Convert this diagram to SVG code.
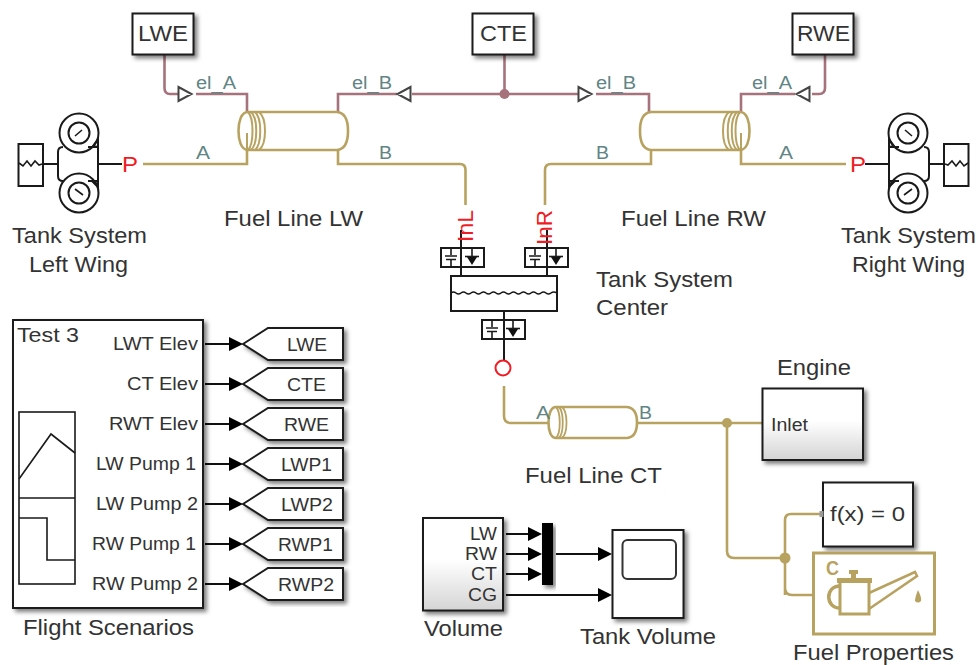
<svg xmlns="http://www.w3.org/2000/svg" xmlns:xlink="http://www.w3.org/1999/xlink" width="980" height="665" viewBox="0 0 980 665">
<style>
text{font-family:"Liberation Sans",Arial,sans-serif;fill:#333;font-size:22px}
.t18{font-size:18.500px}
.port{font-size:18px;fill:#5f8585}
.red{font-size:22px;fill:#f01c24}
.box{fill:#fff;stroke:#1a1a1a;stroke-width:2}
.grad{fill:url(#g);stroke:#1a1a1a;stroke-width:2}
.ln{fill:none;stroke:#1a1a1a;stroke-width:2}
.thin{fill:none;stroke:#1a1a1a;stroke-width:1.6}
.gold{fill:none;stroke:#b8a260;stroke-width:2.6}
.pink{fill:none;stroke:#a6727c;stroke-width:2.6}
.tri{fill:#fff;stroke:#444;stroke-width:2}
.sig{fill:none;stroke:#111;stroke-width:1.8}
</style>
<defs>
<linearGradient id="g" x1="0" y1="0" x2="0" y2="1"><stop offset="0.45" stop-color="#fff"/><stop offset="1" stop-color="#d4d4d4"/></linearGradient>
<filter id="s" x="-15%" y="-15%" width="135%" height="135%"><feDropShadow dx="3" dy="3" stdDeviation="2" flood-color="#000" flood-opacity="0.5"/></filter>
<path id="ah" d="M-14,-7 L0,0 L-14,7 Z" fill="#000"/>
<g id="tankicon">
<rect x="18.500" y="144" width="24.500" height="42" class="ln" fill="#fff"/>
<path d="M19,163 l4,3 l4,-5 l4,5 l4,-5 l4,4 l3,-1" class="thin"/>
<path d="M43,164 H58 M98,164 H122" class="ln"/>
<path d="M63,147 Q58,147 58,152 V176 Q58,181 63,181 M98,147 V181 M88,147 H97 M88,181 H97" class="ln"/>
<circle cx="79" cy="133" r="19.500" class="ln"/><circle cx="79" cy="133" r="10.500" class="ln"/>
<circle cx="79" cy="193" r="19.500" class="ln"/><circle cx="79" cy="193" r="10.500" class="ln"/>
<path d="M75,136 L82,130 M75,189 L83,195" class="thin"/>
<path d="M93,146 L98,139 V147 Z M93,182 L98,187 V181 Z" class="ln"/>
</g>
<g id="valve">
<rect x="0" y="0" width="43" height="19" class="ln" fill="#fff"/>
<path d="M10,0 V7 M4,8 H16 M5,11.500 H15 M10,11.500 V19 M31,0 V8" class="thin"/>
<path d="M24,8.500 H38" class="thin"/><path d="M26,9 H36 L31,17 Z" fill="#111"/>
</g>
<path id="goto" d="M0,0 L25,-16 H100 V16 H25 Z" fill="#fff" stroke="#1a1a1a" stroke-width="2" filter="url(#s)"/>
<g id="tube">
<path d="M248,112 H337 Q348,113 348,131 Q348,149 337,150 H248 C241,150 238.500,140 238.500,131 C238.500,122 241,112 248,112" class="gold"/>
<path d="M248,112 C254,118 254,144 248,150 M251,112 C258,118 258,144 251,150 M255,112 C262,118 262,144 255,150 M259,112 C267,118 267,144 259,150 M247,133 V150" fill="none" stroke="#b8a260" stroke-width="2"/>
</g>
</defs>

<g id="connectors">
<path d="M164.500,54 V88 Q164.500,94 170,94 H178 M196,94 H247 V112 M338,112 V94 H397 M412,94 H578 M596,94 H649 V112 M741,112 V94 H795 M812,94 H819 Q825,94 825,88 V54 M504.500,54 V94" class="pink"/>
<circle cx="504.500" cy="94" r="5" fill="#a6727c"/>
<path d="M143,164 H247 V150 M338,150 V164 H460 Q465.500,164 465.500,170 V205 M651,150 V164 H551 Q545,164 545,170 V205 M741,150 V164 H846 M504,386 V416 Q504,423 511,423 H548 M637,423 H766 M727,423 V551 Q727,558 734,558 H785 M785,595 V520 Q785,514 791,514 H821 M785,558 V588 Q785,595 792,595 H815" class="gold"/>
<circle cx="727" cy="423" r="5" fill="#b8a260"/><circle cx="785" cy="558" r="5.500" fill="#b8a260"/>
<path d="M461,230 V276 M547,230 V276 M504,311 V360" class="ln"/>
<path d="M205,344 H232 M205,384 H232 M205,424 H232 M205,464 H232 M205,504 H232 M205,544 H232 M205,584 H232 M506,534 H532 M506,554 H532 M506,574 H532 M556,554 H602 M506,595 H602" class="sig"/>
<use href="#ah" x="243" y="344"/><use href="#ah" x="243" y="384"/><use href="#ah" x="243" y="424"/><use href="#ah" x="243" y="464"/><use href="#ah" x="243" y="504"/><use href="#ah" x="243" y="544"/><use href="#ah" x="243" y="584"/>
<use href="#ah" x="542" y="534"/><use href="#ah" x="542" y="554"/><use href="#ah" x="542" y="574"/><use href="#ah" x="612" y="554"/><use href="#ah" x="612" y="595"/>
<path d="M178.500,87 L191.500,94 L178.500,101 Z M410.500,87 L397.500,94 L410.500,101 Z M578.500,87 L591.500,94 L578.500,101 Z M809.500,87 L796.500,94 L809.500,101 Z" class="tri"/>
</g>

<g id="lwe"><rect x="132.500" y="13.500" width="61" height="41" class="box" filter="url(#s)"/><text x="138" y="41" textLength="50" lengthAdjust="spacingAndGlyphs">LWE</text></g>
<g id="cte"><rect x="472.500" y="13.500" width="61" height="41" class="box" filter="url(#s)"/><text x="480" y="41" textLength="47" lengthAdjust="spacingAndGlyphs">CTE</text></g>
<g id="rwe"><rect x="792.500" y="13.500" width="61" height="41" class="box" filter="url(#s)"/><text x="797" y="41" textLength="53" lengthAdjust="spacingAndGlyphs">RWE</text></g>

<g id="tank-left"><use href="#tankicon"/>
<text class="red" x="122" y="172" textLength="16" lengthAdjust="spacingAndGlyphs">P</text>
<text x="12" y="243" textLength="135" lengthAdjust="spacingAndGlyphs">Tank System</text>
<text x="29" y="272" textLength="99" lengthAdjust="spacingAndGlyphs">Left Wing</text></g>

<g id="tank-right"><use href="#tankicon" transform="translate(987,0) scale(-1,1)"/>
<text class="red" x="850" y="172" textLength="16" lengthAdjust="spacingAndGlyphs">P</text>
<text x="841" y="243" textLength="135" lengthAdjust="spacingAndGlyphs">Tank System</text>
<text x="852" y="272" textLength="113" lengthAdjust="spacingAndGlyphs">Right Wing</text></g>

<g id="fuel-line-lw"><use href="#tube"/>
<text class="port" x="196" y="89" textLength="40" lengthAdjust="spacingAndGlyphs">el_A</text>
<text class="port" x="352" y="89" textLength="40" lengthAdjust="spacingAndGlyphs">el_B</text>
<text class="port" x="196" y="159" textLength="14" lengthAdjust="spacingAndGlyphs">A</text>
<text class="port" x="379" y="159" textLength="13" lengthAdjust="spacingAndGlyphs">B</text>
<text x="224" y="226" textLength="139" lengthAdjust="spacingAndGlyphs">Fuel Line LW</text></g>

<g id="fuel-line-rw"><use href="#tube" transform="translate(988,0) scale(-1,1)"/>
<text class="port" x="596" y="89" textLength="40" lengthAdjust="spacingAndGlyphs">el_B</text>
<text class="port" x="752" y="89" textLength="40" lengthAdjust="spacingAndGlyphs">el_A</text>
<text class="port" x="596" y="159" textLength="13" lengthAdjust="spacingAndGlyphs">B</text>
<text class="port" x="779" y="159" textLength="14" lengthAdjust="spacingAndGlyphs">A</text>
<text x="621" y="226" textLength="145" lengthAdjust="spacingAndGlyphs">Fuel Line RW</text></g>

<g id="tank-center">
<use href="#valve" x="441" y="248"/><use href="#valve" x="525" y="248"/><use href="#valve" x="482" y="320"/>
<path d="M461,248 V267 M547,248 V267 M504,320 V339" class="ln"/>
<rect x="451" y="276" width="106" height="35" class="ln" fill="#fff"/>
<path d="M451,293 q2.500,-2 5,0 t5,0 t5,0 t5,0 t5,0 t5,0 t5,0 t5,0 t5,0 t5,0 t5,0 t5,0 t5,0 t5,0 t5,0 t5,0 t5,0 t5,0 t5,0 t5,0 t6,0" class="thin"/>
<text class="red" transform="translate(473,242) rotate(-90)" textLength="32" lengthAdjust="spacingAndGlyphs">InL</text>
<text class="red" transform="translate(552,245) rotate(-90)" textLength="35" lengthAdjust="spacingAndGlyphs">InR</text>
<circle cx="503" cy="368" r="7.500" fill="none" stroke="#f01c24" stroke-width="2"/>
<text x="596" y="287" textLength="137" lengthAdjust="spacingAndGlyphs">Tank System</text>
<text x="596" y="315" textLength="72" lengthAdjust="spacingAndGlyphs">Center</text></g>

<g id="fuel-line-ct">
<path d="M556,407 H627 Q637,408 637,422.500 Q637,437 627,438 H556 C551,438 548.500,431 548.500,422.500 C548.500,414 551,407 556,407" class="gold"/>
<path d="M556,407 C561,412 561,433 556,438 M559,407 C564,412 564,433 559,438 M562,407 C568,412 568,433 562,438" fill="none" stroke="#b8a260" stroke-width="1.800"/>
<text class="port" x="536" y="419" textLength="14" lengthAdjust="spacingAndGlyphs">A</text>
<text class="port" x="639" y="419" textLength="13" lengthAdjust="spacingAndGlyphs">B</text>
<text x="525" y="483" textLength="137" lengthAdjust="spacingAndGlyphs">Fuel Line CT</text></g>

<g id="engine"><rect x="762.500" y="388.500" width="100.500" height="71.500" class="grad" filter="url(#s)"/>
<text x="771" y="431" style="font-size:17.500px" textLength="37" lengthAdjust="spacingAndGlyphs">Inlet</text>
<text x="777" y="375" textLength="74" lengthAdjust="spacingAndGlyphs">Engine</text></g>

<g id="solver"><rect x="823" y="482.500" width="90" height="64" class="box" filter="url(#s)"/>
<rect x="819.500" y="511" width="4" height="6" fill="#999"/>
<text x="830" y="521" style="font-size:21px" textLength="75" lengthAdjust="spacingAndGlyphs">f(x) = 0</text></g>

<g id="fuel-properties">
<rect x="813.500" y="553" width="121" height="81" fill="#fff" stroke="#b8a260" stroke-width="3"/>
<text x="826" y="575" style="font-size:20px;fill:#b8a260;font-weight:bold" textLength="13" lengthAdjust="spacingAndGlyphs">C</text>
<rect x="840" y="581" width="29" height="33" fill="#fff" stroke="#b8a260" stroke-width="3"/>
<rect x="837" y="578" width="35" height="5" fill="#b8a260"/><path d="M849,570 H858 V574 H856 V578 H851 V574 H849 Z" fill="#b8a260"/>
<path d="M840,586 C825,586 825,608 840,608" fill="none" stroke="#b8a260" stroke-width="3.500"/>
<path d="M869,593 L915,572 L917,576 L869,609" fill="none" stroke="#b8a260" stroke-width="2.500"/>
<path d="M918,590 Q922,598 921,601 Q918,604 915,601 Q915,597 918,590 Z" fill="#b8a260"/>
<text x="793" y="660" textLength="161" lengthAdjust="spacingAndGlyphs">Fuel Properties</text></g>

<g id="flight-scenarios"><rect x="13" y="320" width="190" height="288" class="box" filter="url(#s)"/>
<rect x="19" y="412" width="56" height="172" class="thin"/>
<path d="M19,498 H75 M19,479 L51,434 L75,453 M19,518 H47 V560 H75" class="thin"/>
<text x="17" y="342" style="font-size:21px" textLength="62" lengthAdjust="spacingAndGlyphs">Test 3</text>
<text class="t18" x="113" y="350" textLength="85" lengthAdjust="spacingAndGlyphs">LWT Elev</text>
<text class="t18" x="127" y="390" textLength="71" lengthAdjust="spacingAndGlyphs">CT Elev</text>
<text class="t18" x="109" y="430" textLength="89" lengthAdjust="spacingAndGlyphs">RWT Elev</text>
<text class="t18" x="96" y="470" textLength="100" lengthAdjust="spacingAndGlyphs">LW Pump 1</text>
<text class="t18" x="96" y="510" textLength="102" lengthAdjust="spacingAndGlyphs">LW Pump 2</text>
<text class="t18" x="92" y="550" textLength="104" lengthAdjust="spacingAndGlyphs">RW Pump 1</text>
<text class="t18" x="92" y="590" textLength="106" lengthAdjust="spacingAndGlyphs">RW Pump 2</text>
<text x="23" y="635" textLength="171" lengthAdjust="spacingAndGlyphs">Flight Scenarios</text></g>

<g id="goto-lwe"><use href="#goto" x="243" y="344"/><text class="t18" x="287" y="351" textLength="40" lengthAdjust="spacingAndGlyphs">LWE</text></g>
<g id="goto-cte"><use href="#goto" x="243" y="384"/><text class="t18" x="287" y="391" textLength="39" lengthAdjust="spacingAndGlyphs">CTE</text></g>
<g id="goto-rwe"><use href="#goto" x="243" y="424"/><text class="t18" x="284" y="431" textLength="45" lengthAdjust="spacingAndGlyphs">RWE</text></g>
<g id="goto-lwp1"><use href="#goto" x="243" y="464"/><text class="t18" x="281" y="471" textLength="51" lengthAdjust="spacingAndGlyphs">LWP1</text></g>
<g id="goto-lwp2"><use href="#goto" x="243" y="504"/><text class="t18" x="281" y="511" textLength="52" lengthAdjust="spacingAndGlyphs">LWP2</text></g>
<g id="goto-rwp1"><use href="#goto" x="243" y="544"/><text class="t18" x="278" y="551" textLength="55" lengthAdjust="spacingAndGlyphs">RWP1</text></g>
<g id="goto-rwp2"><use href="#goto" x="243" y="584"/><text class="t18" x="278" y="591" textLength="56" lengthAdjust="spacingAndGlyphs">RWP2</text></g>

<g id="volume"><rect x="423" y="518" width="80" height="92.500" class="grad" filter="url(#s)"/>
<text class="t18" x="470" y="540" textLength="27" lengthAdjust="spacingAndGlyphs">LW</text>
<text class="t18" x="465" y="560" textLength="32" lengthAdjust="spacingAndGlyphs">RW</text>
<text class="t18" x="471" y="580" textLength="26" lengthAdjust="spacingAndGlyphs">CT</text>
<text class="t18" x="468" y="601" textLength="29" lengthAdjust="spacingAndGlyphs">CG</text>
<text x="424" y="636" textLength="79" lengthAdjust="spacingAndGlyphs">Volume</text></g>

<g id="mux"><rect x="542" y="523" width="11" height="62" fill="#000" filter="url(#s)"/></g>

<g id="tank-volume"><rect x="612.500" y="530" width="71" height="88" class="box" filter="url(#s)"/>
<rect x="622.500" y="540" width="53.500" height="39" rx="5" fill="#fff" stroke="#333" stroke-width="2"/>
<text x="580" y="644" textLength="136" lengthAdjust="spacingAndGlyphs">Tank Volume</text></g>
</svg>
